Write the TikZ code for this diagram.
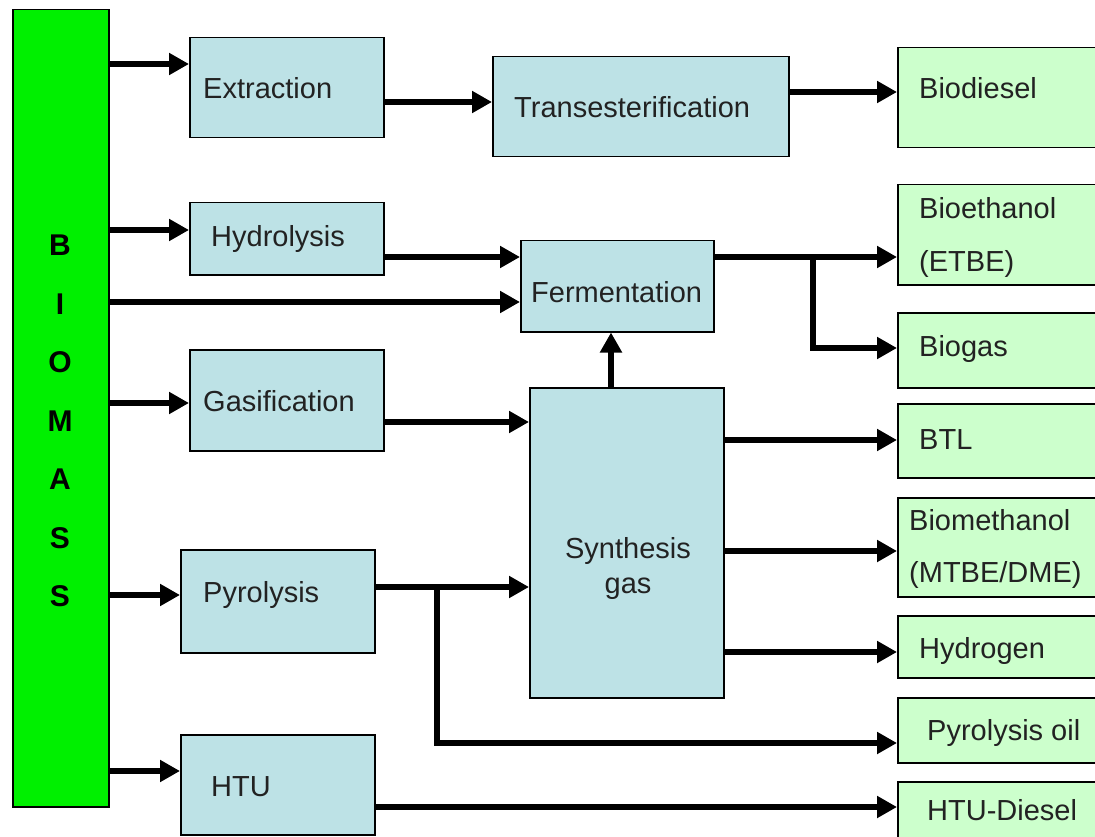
\documentclass[tikz,border=0pt]{standalone}
\usepackage{fontspec}
\setmainfont{Liberation Sans}
\usetikzlibrary{arrows.meta}
\definecolor{procblue}{RGB}{189,226,230}
\definecolor{prodgreen}{RGB}{204,255,204}
\definecolor{biogreen}{RGB}{0,240,0}
\definecolor{txt}{RGB}{34,34,34}
\tikzset{
  box/.style={draw=black, line width=1.5pt, anchor=north west, inner sep=0pt},
  proc/.style={box, fill=procblue},
  prod/.style={box, fill=prodgreen},
  lbl/.style={anchor=base west, inner sep=0pt, text=txt, font=\fontsize{29}{34}\selectfont},
  conn/.style={line width=6pt, -{Triangle[length=20pt,width=21pt]}}
}
\begin{document}
\begin{tikzpicture}[x=1pt,y=-1pt]
\useasboundingbox (0,0) rectangle (1095,837);
\clip (0,0) rectangle (1095,837);
\fill[white] (0,0) rectangle (1095,837);
% boxes
\node[box, fill=biogreen, minimum width=96, minimum height=797] (bio) at (12,9) {};
\node[proc, minimum width=194, minimum height=100] (ext) at (189,37) {};
\node[proc, minimum width=194, minimum height=72] (hyd) at (189,202) {};
\node[proc, minimum width=194, minimum height=101] (gas) at (189,349) {};
\node[proc, minimum width=194, minimum height=103] (pyr) at (180,549) {};
\node[proc, minimum width=194, minimum height=100] (htu) at (180,734) {};
\node[proc, minimum width=296, minimum height=100] (tra) at (492,56) {};
\node[proc, minimum width=193, minimum height=91] (fer) at (520,240) {};
\node[proc, minimum width=194, minimum height=310] (syn) at (529,387) {};
\node[prod, minimum width=198, minimum height=100] (bdi) at (897,47) {};
\node[prod, minimum width=198, minimum height=100] (bet) at (897,184) {};
\node[prod, minimum width=198, minimum height=75] (bga) at (897,312) {};
\node[prod, minimum width=198, minimum height=74] (btl) at (897,403) {};
\node[prod, minimum width=198, minimum height=99] (bme) at (897,497) {};
\node[prod, minimum width=198, minimum height=62] (hyg) at (897,615) {};
\node[prod, minimum width=198, minimum height=65] (poi) at (897,697) {};
\node[prod, minimum width=198, minimum height=80] (hdi) at (897,781) {};
% texts
\node[inner sep=0pt, align=center, text=black, font=\fontsize{30}{58.5}\selectfont\bfseries] (bioT) at (60,421) {B\\I\\O\\M\\A\\S\\S};
\node[lbl] (extT) at (203,99) {Extraction};
\node[lbl] (hydT) at (211,247) {Hydrolysis};
\node[lbl] (gasT) at (203,411) {Gasification};
\node[lbl] (pyrT) at (203,602) {Pyrolysis};
\node[lbl] (htuT) at (211,796) {HTU};
\node[lbl] (traT) at (514,118) {Transesterification};
\node[lbl] (ferT) at (531,302) {Fermentation};
\node[lbl, anchor=base] (synT1) at (628,558) {Synthesis};
\node[lbl, anchor=base] (synT2) at (628,593) {gas};
\node[lbl] (bdiT) at (919,99) {Biodiesel};
\node[lbl] (betT1) at (919,219) {Bioethanol};
\node[lbl] (betT2) at (919,272) {(ETBE)};
\node[lbl] (bgaT) at (919,356) {Biogas};
\node[lbl] (btlT) at (919,449) {BTL};
\node[lbl] (bmeT1) at (909,530) {Biomethanol};
\node[lbl] (bmeT2) at (909,582) {(MTBE/DME)};
\node[lbl] (hygT) at (919,658) {Hydrogen};
\node[lbl] (poiT) at (927,740) {Pyrolysis oil};
\node[lbl] (hdiT) at (927,820) {HTU-Diesel};
% connectors
\draw[conn] (bio.east |- 0,64) -- (ext.west |- 0,64);
\draw[conn] (bio.east |- 0,230) -- (hyd.west |- 0,230);
\draw[conn] (bio.east |- 0,302) -- (fer.west |- 0,302);
\draw[conn] (bio.east |- 0,403) -- (gas.west |- 0,403);
\draw[conn] (bio.east |- 0,595) -- (pyr.west |- 0,595);
\draw[conn] (bio.east |- 0,771) -- (htu.west |- 0,771);
\draw[conn] (ext.east |- 0,102) -- (tra.west |- 0,102);
\draw[conn] (tra.east |- 0,92) -- (bdi.west |- 0,92);
\draw[conn] (hyd.east |- 0,257) -- (fer.west |- 0,257);
\draw[conn] (fer.east |- 0,257) -- (bet.west |- 0,257);
\coordinate (fbr) at (813,257);
\draw[conn] (fbr) |- (bga.west |- 0,348);
\draw[conn] (syn.north -| 611,0) -- (fer.south -| 611,0);
\draw[conn] (gas.east |- 0,422) -- (syn.west |- 0,422);
\draw[conn] (pyr.east |- 0,587) -- (syn.west |- 0,587);
\coordinate (pbr) at (437,587);
\draw[conn] (pbr) |- (poi.west |- 0,743);
\draw[conn] (syn.east |- 0,440) -- (btl.west |- 0,440);
\draw[conn] (syn.east |- 0,551) -- (bme.west |- 0,551);
\draw[conn] (syn.east |- 0,652) -- (hyg.west |- 0,652);
\draw[conn] (htu.east |- 0,807) -- (hdi.west |- 0,807);
\end{tikzpicture}
\end{document}
